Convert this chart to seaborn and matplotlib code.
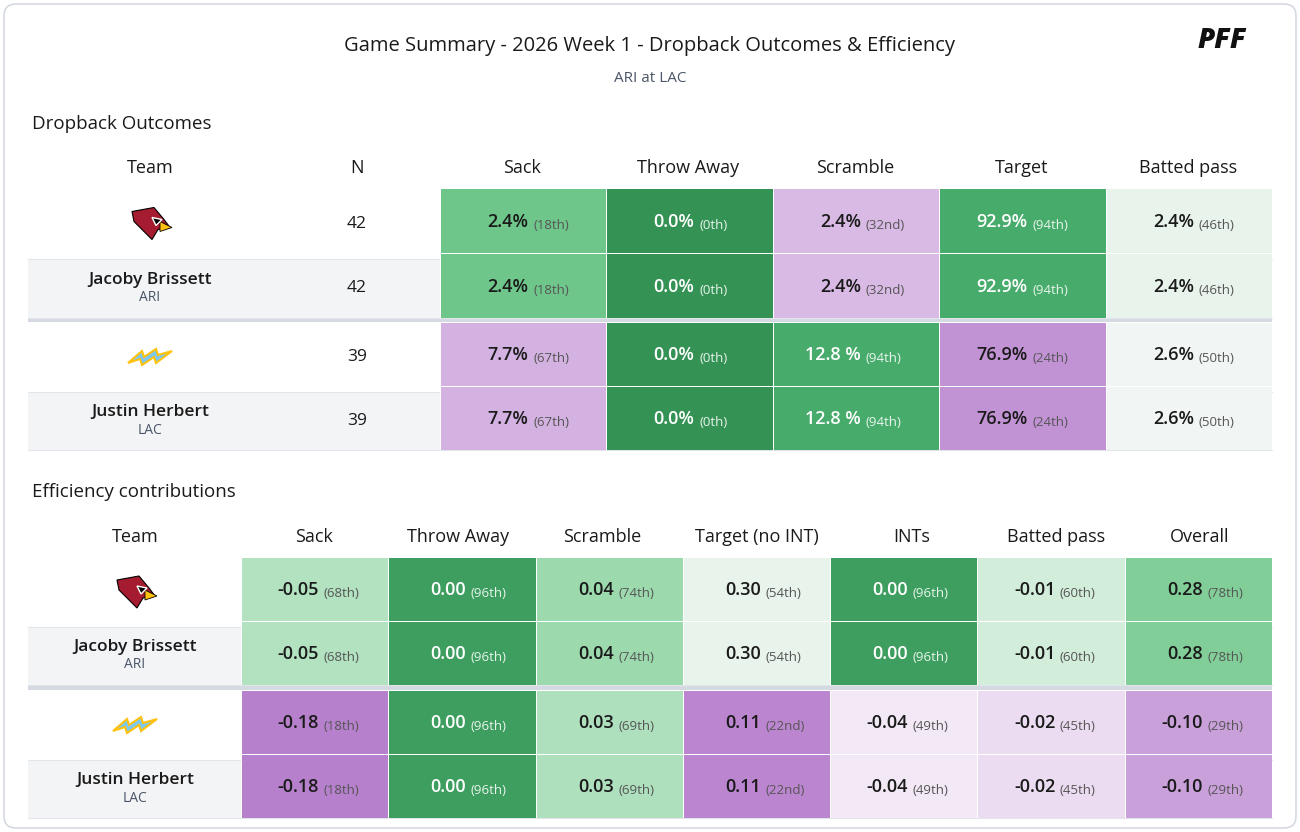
import matplotlib
matplotlib.use("Agg")
import matplotlib.pyplot as plt
import seaborn as sns
import numpy as np
from matplotlib.colors import LinearSegmentedColormap
from matplotlib.patches import FancyBboxPatch, Rectangle, Polygon

# ---- data ----
title = "Game Summary - 2026 Week 1 - Dropback Outcomes & Efficiency"
subtitle = "ARI at LAC"
row_names = ["ARI", "Jacoby Brissett", "LAC", "Justin Herbert"]
row_sub = ["", "ARI", "", "LAC"]
n_dropbacks = [42, 42, 39, 39]

out_cols = ["Sack", "Throw Away", "Scramble", "Target", "Batted pass"]
out_vals = [["2.4%", "0.0%", "2.4%", "92.9%", "2.4%"],
            ["2.4%", "0.0%", "2.4%", "92.9%", "2.4%"],
            ["7.7%", "0.0%", "12.8 %", "76.9%", "2.6%"],
            ["7.7%", "0.0%", "12.8 %", "76.9%", "2.6%"]]
out_rank = [["18th", "0th", "32nd", "94th", "46th"],
            ["18th", "0th", "32nd", "94th", "46th"],
            ["67th", "0th", "94th", "24th", "50th"],
            ["67th", "0th", "94th", "24th", "50th"]]
# colour score: -1 purple (bad) .. +1 green (good)
out_score = [[0.62, 0.95, -0.35, 0.8, 0.12],
             [0.62, 0.95, -0.35, 0.8, 0.12],
             [-0.4, 0.95, 0.8, -0.6, 0.06],
             [-0.4, 0.95, 0.8, -0.6, 0.06]]

eff_cols = ["Sack", "Throw Away", "Scramble", "Target (no INT)", "INTs", "Batted pass", "Overall"]
eff_vals = [["-0.05", "0.00", "0.04", "0.30", "0.00", "-0.01", "0.28"],
            ["-0.05", "0.00", "0.04", "0.30", "0.00", "-0.01", "0.28"],
            ["-0.18", "0.00", "0.03", "0.11", "-0.04", "-0.02", "-0.10"],
            ["-0.18", "0.00", "0.03", "0.11", "-0.04", "-0.02", "-0.10"]]
eff_rank = [["68th", "96th", "74th", "54th", "96th", "60th", "78th"],
            ["68th", "96th", "74th", "54th", "96th", "60th", "78th"],
            ["18th", "96th", "69th", "22nd", "49th", "45th", "29th"],
            ["18th", "96th", "69th", "22nd", "49th", "45th", "29th"]]
eff_score = [[0.36, 0.88, 0.45, 0.13, 0.88, 0.24, 0.55],
             [0.36, 0.88, 0.45, 0.13, 0.88, 0.24, 0.55],
             [-0.75, 0.88, 0.38, -0.7, -0.08, -0.15, -0.5],
             [-0.75, 0.88, 0.38, -0.7, -0.08, -0.15, -0.5]]

cmap = LinearSegmentedColormap.from_list("pff", [
    (0.0, "#a45fbe"), (0.25, "#caa0da"), (0.5, "#faf6fb"),
    (0.6, "#dcf1e2"), (0.75, "#8fd5a4"), (0.87, "#4fb774"), (1.0, "#2f8a4e")])

sns.set_theme(style="white")
plt.rcParams["font.family"] = ["Open Sans", "DejaVu Sans"]
W, H = 1300, 832
fig = plt.figure(figsize=(13, 8.32), dpi=100)
ax = fig.add_axes([0, 0, 1, 1])
ax.set_xlim(0, W)
ax.set_ylim(H, 0)
ax.axis("off")

ax.add_patch(FancyBboxPatch((4, 4), W - 8, H - 8, boxstyle="round,pad=0,rounding_size=12",
                            fc="white", ec="#d5d9e0", lw=1.2))
ax.text(650, 46, title, ha="center", va="center", fontsize=14.5, color="#1a1a1a")
ax.text(650, 78, subtitle, ha="center", va="center", fontsize=11, color="#4a5568")
ax.text(1222, 40, "PFF", ha="center", va="center", fontsize=20, fontweight="black",
        style="italic", color="#111111")


def logo(x, y, team):
    if team == "ARI":
        ax.add_patch(Polygon([(x - 18, y - 12), (x + 4, y - 16), (x + 14, y - 4), (x + 20, y + 4),
                              (x + 8, y + 6), (x + 2, y + 16), (x - 8, y + 6), (x - 16, y - 2)],
                             closed=True, fc="#a51c30", ec="black", lw=0.8))
        ax.add_patch(Polygon([(x + 10, y - 2), (x + 22, y + 4), (x + 10, y + 8)],
                             closed=True, fc="#ffc20e", ec="black", lw=0.6))
        ax.add_patch(Polygon([(x + 2, y - 6), (x + 12, y - 4), (x + 6, y + 2)],
                             closed=True, fc="black"))
    else:
        ax.add_patch(Polygon([(x - 22, y + 6), (x - 8, y - 6), (x - 6, y), (x + 6, y - 8),
                              (x + 8, y - 2), (x + 22, y - 6), (x + 6, y + 6), (x + 4, y),
                              (x - 8, y + 8), (x - 10, y + 2)],
                             closed=True, fc="#7ec8f0", ec="#ffc20e", lw=1.5))


def table(y_title, section, cols, col_x, team_x, extra, vals, ranks, scores, row_y, hdr_y):
    ax.text(32, y_title, section, ha="left", va="center", fontsize=13.5, color="#1a1a1a")
    x0, x1 = col_x[0], col_x[-1]
    for i, (ya, yb) in enumerate(row_y):
        if i % 2 == 1:
            ax.add_patch(Rectangle((28, ya), x0 - 28, yb - ya, fc="#f3f4f6", ec="none"))
        ax.plot([28, 1272], [yb, yb], color="#e2e5ea", lw=0.8)
        yc = (ya + yb) / 2
        if i % 2 == 0:
            logo(team_x, yc, row_names[i])
        else:
            ax.text(team_x, yc - 9, row_names[i], ha="center", va="center", fontsize=12.5,
                    fontweight="semibold", color="#1a1a1a")
            ax.text(team_x, yc + 9, row_sub[i], ha="center", va="center", fontsize=10,
                    color="#4a5568")
        if extra is not None:
            ax.text(357, yc, str(extra[i]), ha="center", va="center", fontsize=12.5, color="#1a1a1a")
    sep = row_y[1][1]
    ax.add_patch(Rectangle((28, sep), 1244, row_y[2][0] - sep, fc="#d5dae2", ec="none"))
    ax.text(team_x, hdr_y, "Team", ha="center", va="center", fontsize=13, color="#1a1a1a")
    if extra is not None:
        ax.text(357, hdr_y, "N", ha="center", va="center", fontsize=13, color="#1a1a1a")
    for j, c in enumerate(cols):
        ax.text((col_x[j] + col_x[j + 1]) / 2, hdr_y, c, ha="center", va="center",
                fontsize=13, color="#1a1a1a")
    # coloured cells, one heatmap per team block
    for b in range(2):
        ya, yb = row_y[2 * b][0], row_y[2 * b + 1][1]
        hax = fig.add_axes([x0 / W, 1 - yb / H, (x1 - x0) / W, (yb - ya) / H])
        sc = np.array(scores[2 * b:2 * b + 2])
        sns.heatmap(sc, ax=hax, cmap=cmap, vmin=-1, vmax=1, cbar=False,
                    linewidths=0.6, linecolor="white", xticklabels=False, yticklabels=False)
        hax.axis("off")
        for r in range(2):
            for c in range(len(cols)):
                s = sc[r, c]
                dark = s > 0.7
                vc = "white" if dark else "#1a1a1a"
                rc = "#e8f5ec" if dark else "#555555"
                v = vals[2 * b + r][c]
                hax.text(c + 0.5 + 0.03, r + 0.52, v, ha="right", va="center", fontsize=13,
                         fontweight="semibold", color=vc)
                hax.text(c + 0.5 + 0.06, r + 0.57, f"({ranks[2 * b + r][c]})", ha="left",
                         va="center", fontsize=9.5, color=rc)


table(124, "Dropback Outcomes", out_cols, [440, 605, 772, 938, 1105, 1272], 150, n_dropbacks,
      out_vals, out_rank, out_score, [(188, 259), (259, 318), (322, 392), (392, 450)], 168)
table(492, "Efficiency contributions", eff_cols, [241, 386, 530, 674, 839, 984, 1128, 1272], 135,
      None, eff_vals, eff_rank, eff_score, [(557, 627), (627, 685), (690, 760), (760, 818)], 537)

fig.savefig("out.png", dpi=100)
